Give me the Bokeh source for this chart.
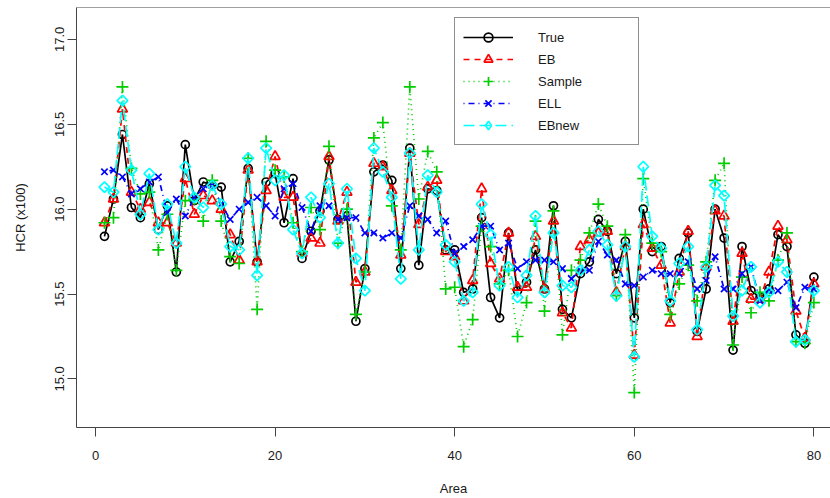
import numpy as np
from bokeh.plotting import figure
from bokeh.models import Legend, LegendItem, FixedTicker, PrintfTickFormatter, Span, Range1d
from bokeh.embed import file_html
from bokeh.resources import INLINE

area = list(range(1, 81))

true_vals = [15.84, 16.06, 16.44, 16.01, 15.95, 16.15, 15.88, 16.02, 15.63, 16.38,
             16.05, 16.16, 16.14, 16.13, 15.69, 15.81, 16.24, 15.69, 16.16, 16.21,
             15.92, 16.18, 15.71, 15.87, 15.99, 16.29, 15.94, 15.96, 15.34, 15.65,
             16.22, 16.26, 16.17, 15.65, 16.36, 15.67, 16.12, 16.11, 15.76, 15.76,
             15.51, 15.53, 15.95, 15.48, 15.36, 15.86, 15.52, 15.57, 15.76, 15.53,
             16.02, 15.41, 15.36, 15.62, 15.69, 15.94, 15.87, 15.62, 15.81, 15.36,
             16.00, 15.75, 15.78, 15.45, 15.71, 15.86, 15.28, 15.53, 16.00, 15.83,
             15.17, 15.78, 15.52, 15.48, 15.53, 15.85, 15.78, 15.26, 15.21, 15.60]

eb_vals = [15.92, 16.06, 16.59, 16.10, 16.00, 16.04, 15.92, 15.92, 15.80, 16.18,
           15.97, 16.08, 16.05, 16.00, 15.85, 15.70, 16.23, 15.69, 16.11, 16.31,
           16.07, 16.07, 15.74, 15.83, 15.80, 16.31, 15.93, 16.10, 15.57, 15.63,
           16.27, 16.25, 16.11, 15.73, 16.33, 15.91, 16.13, 16.17, 15.75, 15.72,
           15.46, 15.58, 16.12, 15.68, 15.59, 15.86, 15.54, 15.54, 15.84, 15.53,
           15.93, 15.39, 15.30, 15.78, 15.82, 15.86, 15.87, 15.51, 15.78, 15.14,
           15.91, 15.77, 15.67, 15.33, 15.63, 15.87, 15.25, 15.66, 15.99, 15.96,
           15.34, 15.74, 15.47, 15.47, 15.63, 15.90, 15.82, 15.40, 15.24, 15.56]

sample_vals = [15.92, 15.95, 16.72, 16.24, 16.09, 16.10, 15.76, 15.97, 15.64, 16.05,
               16.06, 15.93, 16.17, 15.93, 15.72, 15.68, 16.30, 15.41, 16.40, 16.23,
               16.19, 15.92, 15.75, 16.01, 15.88, 16.37, 15.80, 16.00, 15.38, 15.63,
               16.42, 16.51, 16.02, 15.76, 16.72, 16.06, 16.34, 16.22, 15.53, 15.54,
               15.19, 15.35, 15.90, 15.78, 15.56, 15.64, 15.25, 15.45, 15.93, 15.40,
               15.99, 15.26, 15.64, 15.70, 15.86, 16.03, 15.90, 15.49, 15.85, 14.92,
               16.18, 15.80, 15.75, 15.38, 15.56, 15.67, 15.46, 15.69, 16.17, 16.27,
               15.20, 15.60, 15.39, 15.51, 15.46, 15.70, 15.86, 15.22, 15.21, 15.45]

ell_vals = [16.22, 16.23, 16.19, 16.09, 16.12, 16.16, 16.19, 15.98, 16.06, 15.96,
            16.07, 16.12, 16.14, 16.03, 15.94, 16.00, 16.04, 16.07, 16.02, 15.96,
            16.12, 16.15, 16.01, 15.87, 16.02, 16.02, 15.94, 15.95, 15.95, 15.86,
            15.86, 15.83, 15.86, 15.83, 16.02, 15.96, 15.94, 15.86, 15.93, 15.74,
            15.78, 15.82, 15.90, 15.90, 15.76, 15.80, 15.65, 15.69, 15.70, 15.70,
            15.69, 15.65, 15.59, 15.64, 15.64, 15.81, 15.73, 15.70, 15.56, 15.55,
            15.60, 15.64, 15.62, 15.62, 15.62, 15.69, 15.53, 15.58, 15.72, 15.53,
            15.53, 15.62, 15.66, 15.46, 15.52, 15.52, 15.57, 15.42, 15.54, 15.53]

ebnew_vals = [16.13, 16.10, 16.64, 16.23, 15.97, 16.21, 15.88, 16.03, 15.80, 16.25,
              16.07, 16.01, 16.14, 16.03, 15.78, 15.76, 16.30, 15.61, 16.36, 16.17,
              16.20, 15.88, 15.74, 16.07, 15.95, 16.15, 15.80, 16.12, 15.71, 15.52,
              16.36, 16.22, 16.07, 15.59, 16.33, 15.76, 16.20, 16.10, 15.79, 15.69,
              15.46, 15.51, 16.03, 15.85, 15.55, 15.66, 15.48, 15.61, 15.96, 15.51,
              15.86, 15.55, 15.54, 15.64, 15.76, 15.87, 15.79, 15.49, 15.78, 15.13,
              16.25, 15.84, 15.77, 15.46, 15.68, 15.78, 15.29, 15.66, 16.14, 16.08,
              15.37, 15.52, 15.66, 15.45, 15.51, 15.69, 15.63, 15.22, 15.23, 15.52]

series_names = ["True", "EB", "Sample", "ELL", "EBnew"]
x_ticks = [0, 20, 40, 60, 80]
y_ticks = [15.0, 15.5, 16.0, 16.5, 17.0]

FONT = "Liberation Sans"
TXT = "#1a1a1a"
Y_TOP = 17.188

p = figure(width=830, height=498, output_backend="svg", toolbar_location=None,
           x_range=Range1d(-2.116, 81.85), y_range=Range1d(14.714, Y_TOP),
           min_border_left=76, min_border_right=0, min_border_top=7, min_border_bottom=70)
p.grid.visible = False
p.outline_line_color = None
p.background_fill_color = "white"

styles = [
    ("#000000", "solid", "circle", 8, 0.0, "circle", 8),
    ("#FF0000", "6 5", "triangle", 10, 0.0, "triangle", 10),
    ("#00CD00", "1 4", "cross", 12, 0.0, "cross", 12),
    ("#0000FF", "1 4 6 4", "x", 9, 0.0, "x", 9),
    ("#00FFFF", "11 5", "square", 7.5, np.pi / 4, "diamond", 11),
]
data = [true_vals, eb_vals, sample_vals, ell_vals, ebnew_vals]

items = []
for name, vals, (col, dash, mk, sz, ang, lmk, lsz) in zip(series_names, data, styles):
    rl = p.line(area, vals, line_color=col, line_width=1.7, line_dash=dash)
    rs = p.scatter(area, vals, marker=mk, size=sz, angle=ang, fill_color=None,
                   line_color=col, line_width=1.7)
    if ang != 0.0:
        # legend-only marker (legend does not rotate markers)
        rk = p.scatter(area, vals, marker=lmk, size=lsz, fill_color=None,
                       line_color=col, line_width=1.7, visible=False)
        items.append(LegendItem(label=name, renderers=[rl, rk]))
    else:
        items.append(LegendItem(label=name, renderers=[rl, rs]))

legend = Legend(items=items, location=(378, 282), orientation="vertical",
                border_line_color="#222222", border_line_width=1,
                background_fill_color="white", background_fill_alpha=1.0,
                padding=8, spacing=0, margin=0,
                glyph_width=50, glyph_height=22, label_height=22,
                label_standoff=25, label_width=92,
                label_text_font=FONT, label_text_font_size="13px",
                label_text_color=TXT)
p.add_layout(legend)

for ax in (p.xaxis[0], p.yaxis[0]):
    ax.axis_line_color = "#444444"
    ax.axis_line_width = 1
    ax.major_tick_line_color = "#444444"
    ax.major_tick_out = 9
    ax.major_tick_in = 0
    ax.minor_tick_out = 0
    ax.minor_tick_in = 0
    ax.major_label_text_font = FONT
    ax.major_label_text_font_size = "13px"
    ax.major_label_text_color = TXT
    ax.axis_label_text_font = FONT
    ax.axis_label_text_font_size = "13px"
    ax.axis_label_text_font_style = "normal"
    ax.axis_label_text_color = TXT

p.xaxis.ticker = FixedTicker(ticks=x_ticks)
p.yaxis.ticker = FixedTicker(ticks=y_ticks)
p.yaxis.formatter = PrintfTickFormatter(format="%.1f")
p.yaxis.major_label_orientation = "vertical"
p.xaxis.axis_label = "Area"
p.yaxis.axis_label = "HCR (x100)"
p.xaxis.major_label_standoff = 14
p.yaxis.major_label_standoff = 3
p.xaxis.axis_label_standoff = 18
p.yaxis.axis_label_standoff = 25

top = Span(location=Y_TOP, dimension="width", line_color="#444444", line_width=1)
p.add_layout(top)

open("out.html", "w").write(file_html(p, INLINE))
